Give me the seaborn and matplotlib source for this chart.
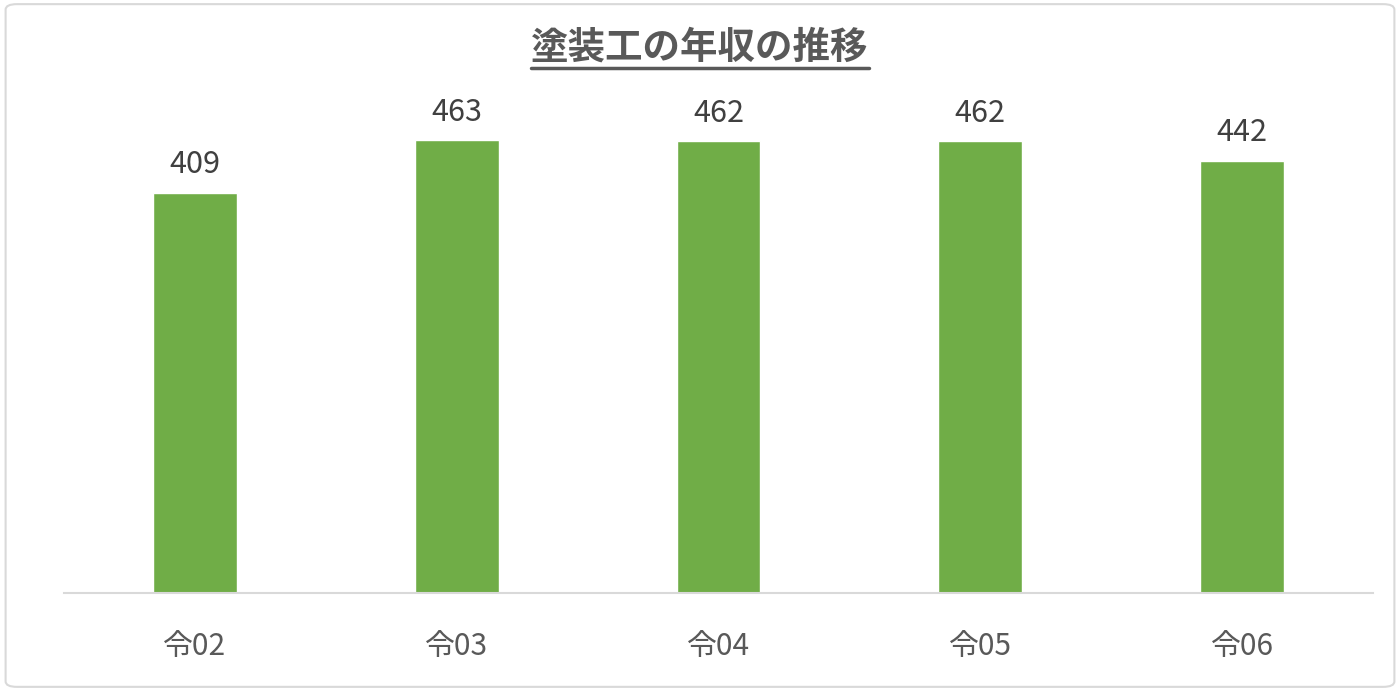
import matplotlib
matplotlib.use("Agg")
import matplotlib.pyplot as plt
from matplotlib.patches import FancyBboxPatch
from matplotlib.lines import Line2D
import seaborn as sns
import pandas as pd

# データ
years = ["令02", "令03", "令04", "令05", "令06"]
incomes = [409, 463, 462, 462, 442]
title = "塗装工の年収の推移"

df = pd.DataFrame({"year": years, "income": incomes})

sns.set_style("white")
plt.rcParams["font.family"] = ["Noto Sans CJK JP", "DejaVu Sans"]

fig = plt.figure(figsize=(14, 6.91), dpi=100)
ax = fig.add_axes([0.0457, 0.1418, 0.935, 0.7077])

sns.barplot(data=df, x="year", y="income", color="#70AD47", width=0.32,
            saturation=1, ax=ax)

ax.set_ylim(0, 500)
ax.set_xlim(-0.5, len(years) - 0.5)
ax.set_xlabel("")
ax.set_ylabel("")
ax.set_yticks([])
for s in ["top", "right", "left"]:
    ax.spines[s].set_visible(False)
ax.spines["bottom"].set_color("#D9D9D9")
ax.spines["bottom"].set_linewidth(1.5)
ax.tick_params(axis="x", length=0, pad=27, labelsize=21.5, labelcolor="#595959")

for c in ax.containers:
    ax.bar_label(c, fmt="%d", padding=9, fontsize=22, color="#404040")

# タイトル（下線付き）
t = fig.text(0.5, 0.932, title, ha="center", va="center", fontsize=27,
             fontweight="bold", color="#595959")
fig.canvas.draw()
bb = t.get_window_extent().transformed(fig.transFigure.inverted())
fig.add_artist(Line2D([bb.x0, bb.x1], [bb.y0 - 0.002, bb.y0 - 0.002],
                      transform=fig.transFigure, color="#595959", lw=2.5))

# 外枠
fig.patches.append(FancyBboxPatch((0.004, 0.006), 0.992, 0.988,
                                  boxstyle="round,pad=0,rounding_size=0.008",
                                  transform=fig.transFigure, fill=False,
                                  edgecolor="#D9D9D9", lw=1.5))

fig.savefig("out.png", dpi=100)
